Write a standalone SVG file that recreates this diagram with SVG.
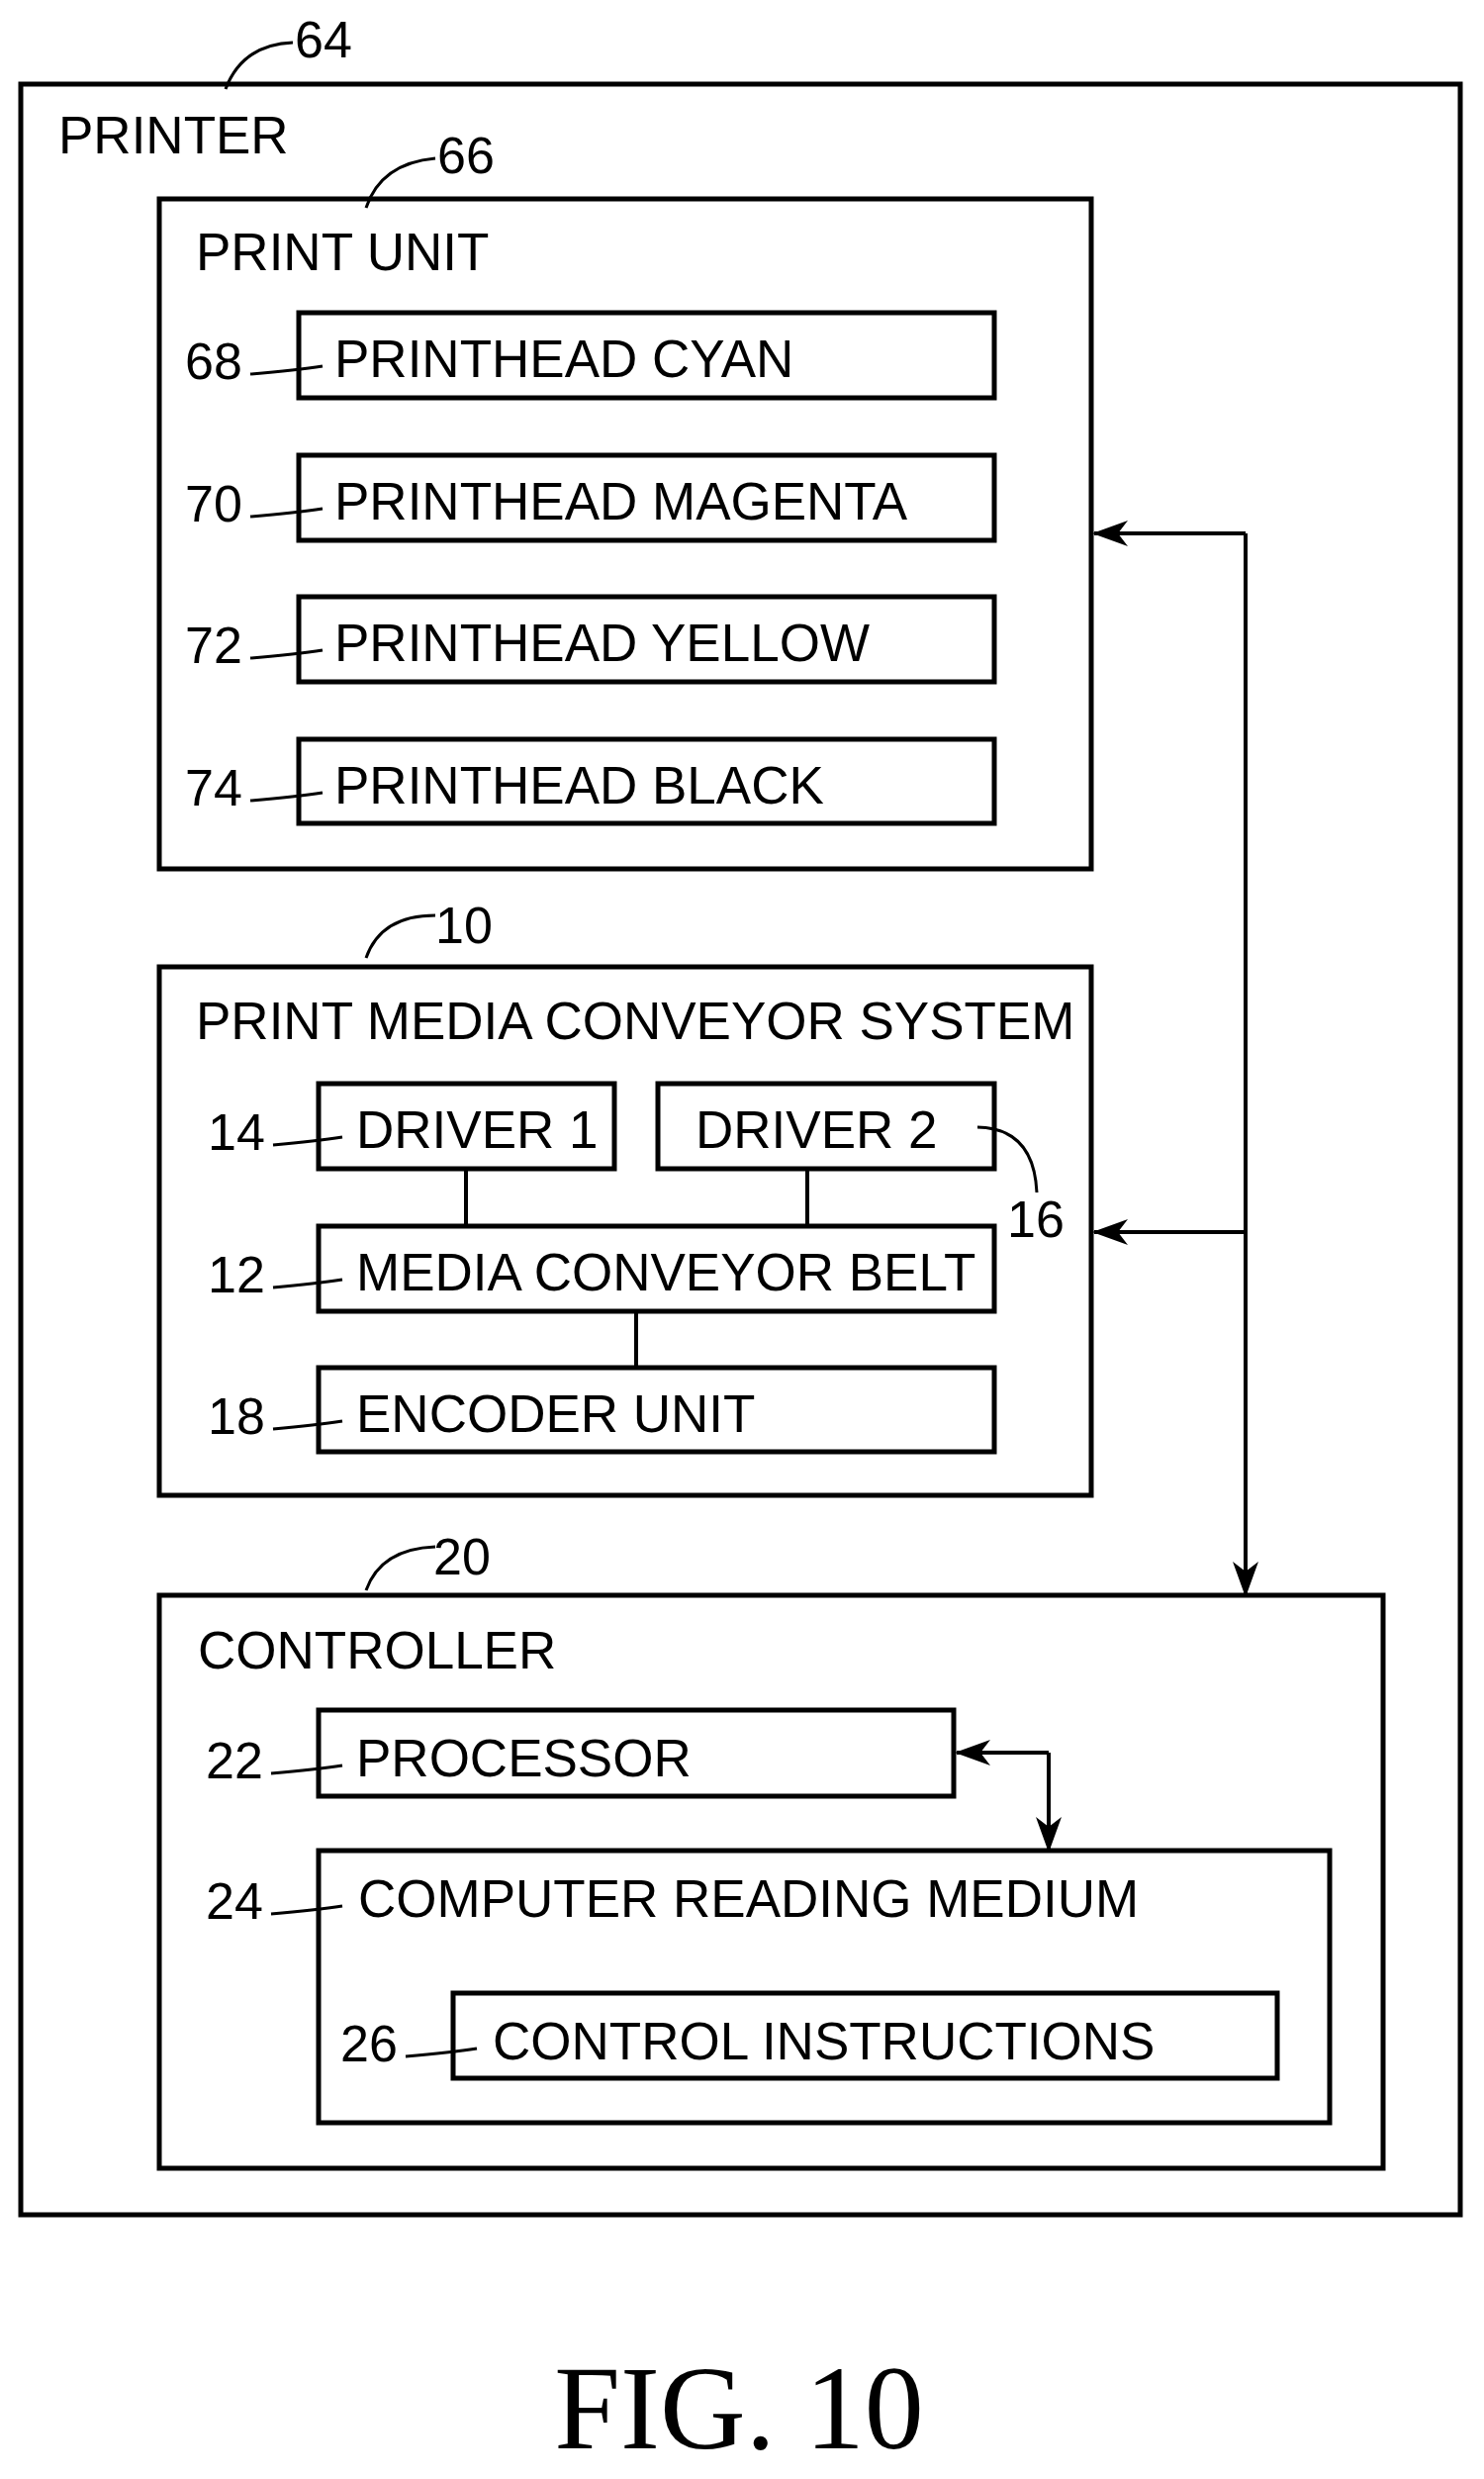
<svg xmlns="http://www.w3.org/2000/svg" width="1500" height="2505" viewBox="0 0 1500 2505">
<style>
rect{fill:none;stroke:#000;stroke-width:5}
text{font-family:"Liberation Sans",Arial,sans-serif;font-size:53px;fill:#000}
.n{font-size:52px}
.ld{fill:none;stroke:#000;stroke-width:3}
.c{fill:none;stroke:#000;stroke-width:4}
</style>
<defs>
<marker id="b" markerWidth="36" markerHeight="26" refX="34" refY="13" orient="auto" markerUnits="userSpaceOnUse"><path d="M0,0 L36,13 L0,26 L10,13 Z" fill="#000"/></marker></defs>
<g id="printer"><rect x="21" y="85" width="1455" height="2153"/><text x="59" y="155">PRINTER</text><text class="n" x="298" y="58">64</text><path class="ld" d="M228,90 Q245,45 296,43"/></g>
<g id="printunit"><rect x="161" y="201" width="942" height="677"/><text x="198" y="273">PRINT UNIT</text><text class="n" x="442" y="175">66</text><path class="ld" d="M370,210 Q385,165 440,160"/></g>
<g id="cyan"><rect x="302" y="316" width="703" height="86"/><text x="338" y="381">PRINTHEAD CYAN</text><text class="n" x="187" y="383">68</text><path class="ld" d="M253,378 Q300,374 326,370"/></g>
<g id="magenta"><rect x="302" y="460" width="703" height="86"/><text x="338" y="525">PRINTHEAD MAGENTA</text><text class="n" x="187" y="527">70</text><path class="ld" d="M253,522 Q300,518 326,514"/></g>
<g id="yellow"><rect x="302" y="603" width="703" height="86"/><text x="338" y="668">PRINTHEAD YELLOW</text><text class="n" x="187" y="670">72</text><path class="ld" d="M253,665 Q300,661 326,657"/></g>
<g id="black"><rect x="302" y="747" width="703" height="85"/><text x="338" y="812">PRINTHEAD BLACK</text><text class="n" x="187" y="814">74</text><path class="ld" d="M253,809 Q300,805 326,801"/></g>
<g id="conveyor"><rect x="161" y="977" width="942" height="534"/><text x="198" y="1050">PRINT MEDIA CONVEYOR SYSTEM</text><text class="n" x="440" y="953">10</text><path class="ld" d="M370,968 Q385,925 440,925"/></g>
<g id="driver1"><rect x="322" y="1095" width="299" height="86"/><text x="360" y="1160">DRIVER 1</text><text class="n" x="210" y="1162">14</text><path class="ld" d="M276,1157 Q320,1153 346,1149"/></g>
<g id="driver2"><rect x="665" y="1095" width="340" height="86"/><text x="703" y="1160">DRIVER 2</text><text class="n" x="1018" y="1250">16</text><path class="ld" d="M988,1139 Q1045,1140 1048,1205"/></g>
<g id="belt"><rect x="322" y="1239" width="683" height="86"/><text x="360" y="1304">MEDIA CONVEYOR BELT</text><text class="n" x="210" y="1306">12</text><path class="ld" d="M276,1301 Q320,1297 346,1293"/></g>
<g id="encoder"><rect x="322" y="1382" width="683" height="85"/><text x="360" y="1447">ENCODER UNIT</text><text class="n" x="210" y="1449">18</text><path class="ld" d="M276,1444 Q320,1440 346,1436"/></g>
<g id="controller"><rect x="161" y="1612" width="1237" height="579"/><text x="200" y="1686">CONTROLLER</text><text class="n" x="438" y="1591">20</text><path class="ld" d="M370,1607 Q385,1565 440,1563"/></g>
<g id="processor"><rect x="322" y="1728" width="642" height="87"/><text x="360" y="1795">PROCESSOR</text><text class="n" x="208" y="1797">22</text><path class="ld" d="M274,1792 Q320,1788 346,1784"/></g>
<g id="medium"><rect x="322" y="1870" width="1022" height="275"/><text x="362" y="1937">COMPUTER READING MEDIUM</text><text class="n" x="208" y="1939">24</text><path class="ld" d="M274,1934 Q320,1930 346,1926"/></g>
<g id="instructions"><rect x="458" y="2014" width="833" height="86"/><text x="498" y="2081">CONTROL INSTRUCTIONS</text><text class="n" x="344" y="2083">26</text><path class="ld" d="M410,2078 Q456,2074 482,2070"/></g>
<g id="connectors">
<path class="c" d="M471,1181 V1239 M816,1181 V1239 M643,1325 V1382"/>
<path class="c" d="M1259,539 V1612" marker-end="url(#b)"/>
<path class="c" d="M1259,539 H1106" marker-end="url(#b)"/>
<path class="c" d="M1259,1245 H1106" marker-end="url(#b)"/>
<path class="c" d="M1060,1771 H967" marker-end="url(#b)"/>
<path class="c" d="M1060,1771 V1870" marker-end="url(#b)"/>
</g>
<text x="747" y="2474" text-anchor="middle" style="font-family:'Liberation Serif','Times New Roman',serif;font-size:120px">FIG. 10</text>
</svg>
